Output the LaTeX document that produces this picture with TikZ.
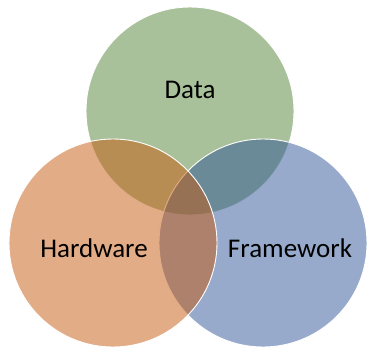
\documentclass[tikz,border=0pt]{standalone}
\usepackage{xcolor}
\usepackage{tikz}
\usepackage{fontspec}
\setmainfont{Carlito}
\definecolor{DataGreen}{HTML}{538335}
\definecolor{HardOrange}{HTML}{C5590F}
\definecolor{FrameBlue}{HTML}{2F5597}

\tikzset{
  venn/.style={circle, minimum size=208pt, inner sep=0pt, draw=white,
               line width=0.9pt, fill opacity=0.5},
  vennlabel/.style={font=\fontsize{27}{32}\selectfont, text=black}
}

\begin{document}
\begin{tikzpicture}[x=1pt,y=1pt]
      \useasboundingbox (0,0) rectangle (367,349);
      % circles, drawn bottom to top
      \node[venn, fill=DataGreen]  (data)  at (190,238) {};
      \node[venn, fill=FrameBlue]  (frame) at (263,106) {};
      \node[venn, fill=HardOrange] (hard)  at (113,106) {};
      % labels
      \node[vennlabel] (datalbl)  at (190,259) {Data};
      \node[vennlabel] (hardlbl)  at (94,101)  {Hardware};
      \node[vennlabel] (framelbl) at (290,101) {Framework};
    \end{tikzpicture}
\end{document}
